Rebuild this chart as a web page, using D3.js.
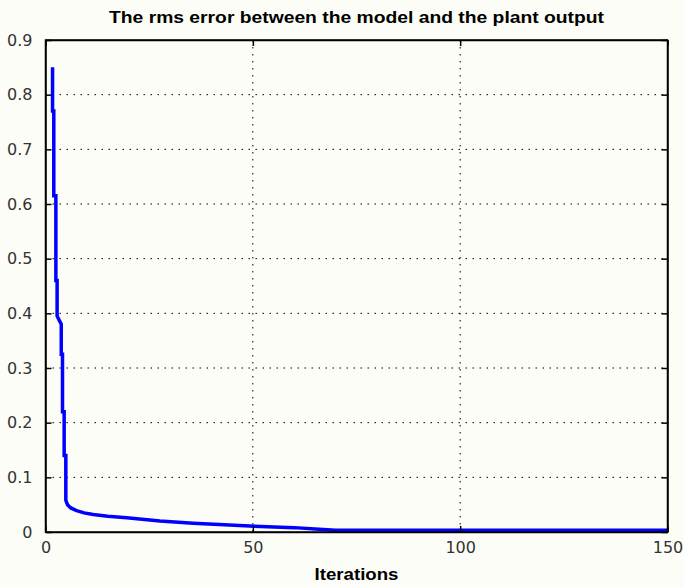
<!DOCTYPE html>
<html>
<head>
<meta charset="utf-8">
<script src="https://cdn.jsdelivr.net/npm/d3@7"></script>
<style>
  body { margin: 0; background: #fdfdf7; }
  svg { display: block; }
  .tick text { font-family: "DejaVu Sans", Arial, sans-serif; font-size: 16px; fill: #333; }
</style>
</head>
<body>
<div id="chart"></div>
<script>
// data
var iterations = [1.7, 1.7, 2.0, 2.0, 2.5, 2.5, 2.8, 2.8, 3.8, 3.8, 4.1, 4.1, 4.5, 4.5, 4.9, 4.9,
    5.3, 6.1, 7.5, 9.3, 11.5, 15, 19.6, 27.6, 35.6, 49.3, 60, 66, 70, 90, 120, 150];
var rmsError = [0.85, 0.77, 0.77, 0.615, 0.615, 0.46, 0.46, 0.395, 0.38, 0.325, 0.325, 0.22, 0.22, 0.14, 0.14, 0.058,
    0.05, 0.044, 0.039, 0.035, 0.032, 0.029, 0.026, 0.020, 0.016, 0.011, 0.008, 0.005, 0.003, 0.003, 0.003, 0.003];
var xTicks = [0, 50, 100, 150];
var yTicks = [0, 0.1, 0.2, 0.3, 0.4, 0.5, 0.6, 0.7, 0.8, 0.9];

var svgWidth = 684;
var svgHeight = 587;
var margin = { top: 40, right: 16.5, bottom: 55, left: 45.5 };
var width = svgWidth - margin.left - margin.right;
var height = svgHeight - margin.top - margin.bottom;

var svg = d3.select("#chart")
    .append("svg")
    .attr("width", svgWidth)
    .attr("height", svgHeight);

svg.append("rect")
    .attr("width", svgWidth)
    .attr("height", svgHeight)
    .attr("fill", "#fdfdf7");

var g = svg.append("g")
    .attr("transform", `translate(${margin.left}, ${margin.top})`);

var x = d3.scaleLinear().domain([0, 150]).range([0, width]);
var y = d3.scaleLinear().domain([0, 0.9]).range([height, 0]);

// dotted grid
g.append("g").selectAll("line")
    .data(xTicks.slice(1, -1))
    .enter().append("line")
    .attr("x1", d => x(d)).attr("x2", d => x(d))
    .attr("y1", 0).attr("y2", height)
    .attr("stroke", "#000")
    .attr("stroke-width", 1)
    .attr("stroke-dasharray", "1.5,5.5");

g.append("g").selectAll("line")
    .data(yTicks.slice(1, -1))
    .enter().append("line")
    .attr("x1", 0).attr("x2", width)
    .attr("y1", d => y(d)).attr("y2", d => y(d))
    .attr("stroke", "#000")
    .attr("stroke-width", 1)
    .attr("stroke-dasharray", "1.5,5.5");

// the curve
var line = d3.line()
    .x((d, i) => x(iterations[i]))
    .y(d => y(d));

g.append("path")
    .datum(rmsError)
    .attr("d", line)
    .attr("fill", "none")
    .attr("stroke", "#0000ff")
    .attr("stroke-width", 3.5);

// axes, ticks pointing inward
var xAxis = d3.axisBottom(x).tickValues(xTicks).tickFormat(d3.format("d"))
    .tickSizeInner(-6).tickSizeOuter(0).tickPadding(10);
var yAxis = d3.axisLeft(y).tickValues(yTicks).tickFormat(d => d === 0 ? "0" : d3.format(".1f")(d))
    .tickSizeInner(-6).tickSizeOuter(0).tickPadding(13);

var xg = g.append("g").attr("transform", `translate(0, ${height})`).call(xAxis);
var yg = g.append("g").call(yAxis);
g.append("g").call(d3.axisTop(x).tickValues(xTicks).tickFormat("").tickSizeInner(-6).tickSizeOuter(0));
g.append("g").attr("transform", `translate(${width}, 0)`)
    .call(d3.axisRight(y).tickValues(yTicks).tickFormat("").tickSizeInner(-6).tickSizeOuter(0));

g.selectAll(".domain").attr("stroke", "#000").attr("stroke-width", 1.5);
g.selectAll(".tick line").attr("stroke", "#000").attr("stroke-width", 1.5);

// box
g.append("rect")
    .attr("width", width)
    .attr("height", height)
    .attr("fill", "none")
    .attr("stroke", "#000")
    .attr("stroke-width", 1.5);

// title
svg.append("text")
    .attr("x", margin.left + width / 2)
    .attr("y", 23)
    .attr("text-anchor", "middle")
    .attr("textLength", 495)
    .attr("lengthAdjust", "spacingAndGlyphs")
    .style("font-family", "Liberation Sans, Arial, sans-serif")
    .style("font-weight", "bold")
    .style("font-size", "17px")
    .text("The rms error between the model and the plant output");

// x axis title
svg.append("text")
    .attr("x", margin.left + width / 2)
    .attr("y", 580)
    .attr("text-anchor", "middle")
    .attr("textLength", 84)
    .attr("lengthAdjust", "spacingAndGlyphs")
    .style("font-family", "Liberation Sans, Arial, sans-serif")
    .style("font-weight", "bold")
    .style("font-size", "17px")
    .text("Iterations");
</script>
</body>
</html>
